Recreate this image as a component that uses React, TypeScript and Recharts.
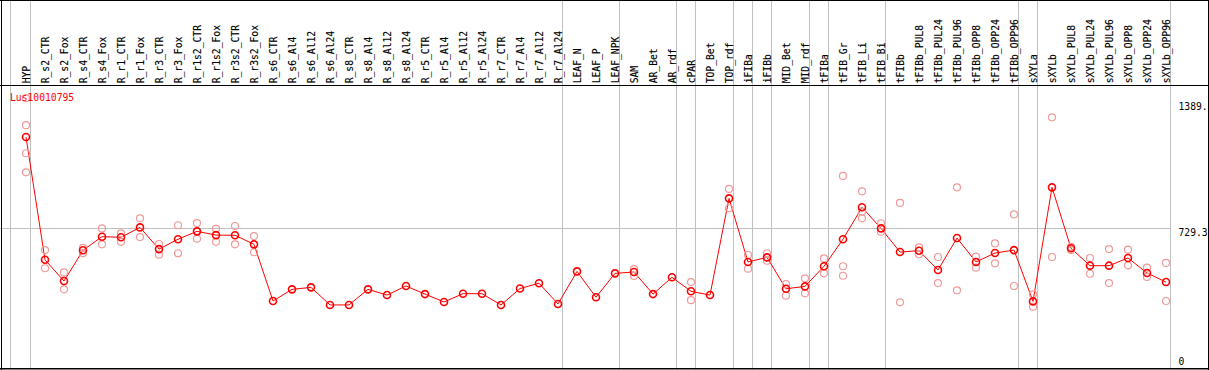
import { ComposedChart, Line, Scatter, XAxis, YAxis, ReferenceLine } from 'recharts'

const labels = [
  'HYP', 'R_s2_CTR', 'R_s2_Fox', 'R_s4_CTR', 'R_s4_Fox', 'R_r1_CTR', 'R_r1_Fox', 'R_r3_CTR', 'R_r3_Fox',
  'R_r1s2_CTR', 'R_r1s2_Fox', 'R_r3s2_CTR', 'R_r3s2_Fox', 'R_s6_CTR', 'R_s6_Al4', 'R_s6_Al12', 'R_s6_Al24',
  'R_s8_CTR', 'R_s8_Al4', 'R_s8_Al12', 'R_s8_Al24', 'R_r5_CTR', 'R_r5_Al4', 'R_r5_Al12', 'R_r5_Al24',
  'R_r7_CTR', 'R_r7_Al4', 'R_r7_Al12', 'R_r7_Al24', 'LEAF_N', 'LEAF_P', 'LEAF_NPK', 'SAM', 'AR_Bet', 'AR_rdf',
  'cPAR', 'TOP_Bet', 'TOP_rdf', 'iFIBa', 'iFIBb', 'MID_Bet', 'MID_rdf', 'tFIBa', 'tFIB_Gr', 'tFIB_Li', 'tFIB_Bi',
  'tFIBb', 'tFIBb_PUL8', 'tFIBb_PUL24', 'tFIBb_PUL96', 'tFIBb_OPP8', 'tFIBb_OPP24', 'tFIBb_OPP96',
  'sXYLa', 'sXYLb', 'sXYLb_PUL8', 'sXYLb_PUL24', 'sXYLb_PUL96', 'sXYLb_OPP8', 'sXYLb_OPP24', 'sXYLb_OPP96',
]

const means = [
  1191, 569, 461, 617, 686, 683, 733, 623, 673, 713, 694, 693, 647,
  360, 419, 429, 340, 340, 419, 390, 436, 395, 355, 397, 397, 340, 423, 450, 345,
  510, 379, 500, 507, 395, 480, 409, 390, 880, 558, 581, 422, 434, 536,
  673, 835, 728, 608, 615, 517, 679, 558, 603, 618,
  358, 936, 627, 539, 539, 578, 502, 456,
]

const none = (n: number) => Array(n).fill(null)

// replicate samples (light circles), null where a column has none
const rep1 = [
  1388, 618, 505, 629, 728, 703, 779, 649, 744, 755, 726, 740, 689,
  ...none(19),
  522, null, null, 456, null, 928, 593, 602, 446, 475, 576,
  994, 916, 754, 857, 632, 583, 936, 585, 652, 799,
  394, 1291, 634, 578, 623, 620, 529, 553,
]
const rep2 = [
  1251, 526, 419, 603, 647, 660, 684, 595, 602, 676, 660, 647, 607,
  ...none(19),
  487, null, null, 364, null, 830, 524, 564, 387, 399, 500,
  536, 779, 711, 353, 597, 451, 414, 529, 551, 436,
  331, 583, 618, 498, 451, 541, 482, 360,
]
const rep3 = [1109, ...none(42), 488, 813, ...none(16)]
const rep4 = [1012, ...none(60)]

const groupEnds = [
  'HYP', 'R_r7_Al24', 'LEAF_NPK', 'AR_rdf', 'cPAR', 'TOP_rdf', 'iFIBa', 'iFIBb',
  'MID_rdf', 'tFIBa', 'tFIB_Bi', 'tFIBb_OPP96', 'sXYLa', 'sXYLb_OPP96',
]

const yTicks = [0, 729.3, 1389]
const yTickText = ['0', '729.3', '1389.']
const yTickDy = [-7, 8, 11.5]

const FONT = '"DejaVu Sans Mono", monospace'
const GRID = '#c0c0c0'
const X_MIN = -26 / 19
const X_MAX = 60 + 4.7 / 19

const lineData = labels.map((name, i) => ({ i, name, mean: means[i] }))
const repData = [rep1, rep2, rep3, rep4].flatMap((arr) =>
  arr.flatMap((v, i) => (v == null ? [] : [{ i, v }]))
)
const separators = groupEnds.map((n) => labels.indexOf(n) + 0.25)

function HeaderTick(props: any) {
  const { x, payload } = props
  return (
    <text
      transform={`translate(${x + 3.5},83.3) rotate(-90)`}
      fontFamily={FONT}
      fontSize={9.7}
      fill='#000'
      stroke='#000'
      strokeWidth={0.15}
    >
      {labels[payload.value]}
    </text>
  )
}

function ValueTick(props: any) {
  const { y, payload } = props
  const k = yTicks.indexOf(payload.value)
  return (
    <text x={1178.5} y={y + yTickDy[k]} fontFamily={FONT} fontSize={9.7} fill='#000'>
      {yTickText[k]}
    </text>
  )
}

function SepLine(props: any) {
  const x = Math.floor(props.x1) + 0.5
  return <line x1={x} x2={x} y1={0} y2={props.y2} stroke={GRID} strokeWidth={1} />
}

function HLine(props: any) {
  const y = Math.floor(props.y1) + 0.5
  return <line x1={props.x1} x2={props.x2} y1={y} y2={y} stroke={GRID} strokeWidth={1} />
}

function RepDot(props: any) {
  return <circle cx={props.cx} cy={props.cy} r={3.5} fill='none' stroke='#f09a9a' strokeWidth={1.2} />
}

export default function App() {
  return (
    <div style={{ position: 'fixed', left: 0, top: 0, width: 1209, height: 370, overflow: 'hidden', background: '#fff' }}>
      <ComposedChart
        width={1209}
        height={372}
        data={lineData}
        margin={{ top: 68, right: 0, bottom: 0, left: 0 }}
      >
        <XAxis
          dataKey='i'
          type='number'
          orientation='top'
          height={30}
          domain={[X_MIN, X_MAX]}
          allowDataOverflow
          ticks={labels.map((_, i) => i)}
          interval={0}
          axisLine={false}
          tickLine={false}
          tick={<HeaderTick />}
        />
        <YAxis
          type='number'
          orientation='right'
          width={38.3}
          domain={[0, 1389]}
          ticks={yTicks}
          interval={0}
          axisLine={false}
          tickLine={false}
          tick={<ValueTick />}
        />
        <ReferenceLine y={729.3} shape={HLine} ifOverflow='visible' />
        {separators.map((x) => (
          <ReferenceLine key={x} x={x} shape={SepLine} ifOverflow='visible' />
        ))}
        <Scatter data={repData} dataKey='v' shape={RepDot} isAnimationActive={false} />
        <Line
          type='linear'
          dataKey='mean'
          stroke='#ff0000'
          strokeWidth={1}
          dot={{ r: 3.5, stroke: '#ff0000', strokeWidth: 1.6, fill: 'none' }}
          activeDot={false}
          isAnimationActive={false}
        />
      </ComposedChart>
      <svg width={1209} height={370} style={{ position: 'absolute', left: 0, top: 0, pointerEvents: 'none' }}>
        <line x1={10.5} x2={10.5} y1={0} y2={370} stroke={GRID} strokeWidth={1} />
        <line x1={0} x2={1209} y1={0.5} y2={0.5} stroke='#000' />
        <line x1={1.5} x2={1.5} y1={0} y2={370} stroke='#000' />
        <line x1={1208.5} x2={1208.5} y1={0} y2={370} stroke='#000' />
        <line x1={0} x2={1209} y1={368.8} y2={368.8} stroke='#000' strokeWidth={1.6} />
        <line x1={0} x2={1209} y1={85.5} y2={85.5} stroke='#000' />
        <text x={10} y={100.7} fontFamily={FONT} fontSize={9.7} fill='#ff0000'>
          Lus10010795
        </text>
      </svg>
    </div>
  )
}
